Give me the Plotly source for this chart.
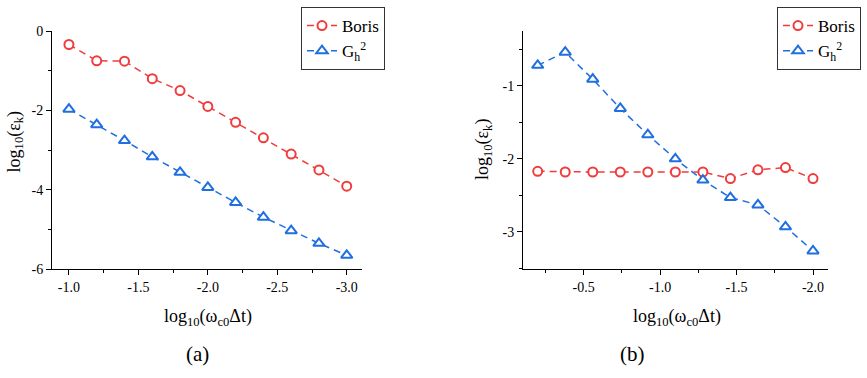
import plotly.graph_objects as go

# ---------------- data ----------------
xa = [-1.0, -1.2, -1.4, -1.6, -1.8, -2.0, -2.2, -2.4, -2.6, -2.8, -3.0]
boris_a = [-0.34, -0.75, -0.76, -1.20, -1.50, -1.90, -2.30, -2.69, -3.10, -3.50, -3.91]
gh_a = [-1.97, -2.36, -2.76, -3.17, -3.56, -3.94, -4.32, -4.69, -5.03, -5.35, -5.65]

xb = [-0.20, -0.38, -0.56, -0.74, -0.92, -1.10, -1.28, -1.46, -1.64, -1.82, -2.00]
boris_b = [-2.17, -2.18, -2.18, -2.18, -2.18, -2.18, -2.18, -2.27, -2.15, -2.12, -2.27]
gh_b = [-0.72, -0.54, -0.91, -1.31, -1.67, -2.00, -2.29, -2.53, -2.63, -2.93, -3.26]

xticks_a = [-1.0, -1.5, -2.0, -2.5, -3.0]
xticklabels_a = ["-1.0", "-1.5", "-2.0", "-2.5", "-3.0"]
xminor_a = [-1.25, -1.75, -2.25, -2.75]
yticks_a = [0, -2, -4, -6]
yticklabels_a = ["0", "-2", "-4", "-6"]
yminor_a = [-1, -3, -5]

xticks_b = [-0.5, -1.0, -1.5, -2.0]
xticklabels_b = ["-0.5", "-1.0", "-1.5", "-2.0"]
xminor_b = [-0.25, -0.75, -1.25, -1.75]
yticks_b = [-1, -2, -3]
yticklabels_b = ["-1", "-2", "-3"]
yminor_b = [-0.5, -1.5, -2.5, -3.5]

RED = "#F03C3C"
BLUE = "#1F6FE0"
FONT = "Liberation Serif"
DASH = "7px,5px"

fig = go.Figure()

def add_pair(x, yb, yg, xa_name, ya_name, legend_name):
    fig.add_trace(go.Scatter(
        x=x, y=yb, name="Boris", mode="lines+markers",
        line=dict(color=RED, width=1.5, dash=DASH),
        marker=dict(symbol="circle", size=9, color="white", line=dict(width=2, color=RED)),
        xaxis=xa_name, yaxis=ya_name, legend=legend_name))
    fig.add_trace(go.Scatter(
        x=x, y=yg, name="G<sub>h</sub><sup>2</sup>", mode="lines+markers",
        line=dict(color=BLUE, width=1.5, dash=DASH),
        marker=dict(symbol="triangle-up", size=10, color="white", line=dict(width=2, color=BLUE)),
        xaxis=xa_name, yaxis=ya_name, legend=legend_name))

add_pair(xa, boris_a, gh_a, "x", "y", "legend")
add_pair(xb, boris_b, gh_b, "x2", "y2", "legend2")

W, H = 867, 378

def px_x(p):
    return p / W

def px_y(p):
    return 1 - p / H

axis_common = dict(
    showline=True, linecolor="black", linewidth=1, mirror=False,
    showgrid=False, zeroline=False, ticks="outside", ticklen=5,
    tickcolor="black", tickwidth=1,
    tickfont=dict(family=FONT, size=14, color="black"),
    tickmode="array",
)

fig.update_layout(
    width=W, height=H,
    margin=dict(l=0, r=0, t=0, b=0),
    paper_bgcolor="white", plot_bgcolor="white",
    font=dict(family=FONT, color="black"),
    showlegend=True,
    xaxis=dict(domain=[px_x(52), px_x(362)], range=[-0.878, -3.11], anchor="y",
               tickvals=xticks_a, ticktext=xticklabels_a,
               minor=dict(tickvals=xminor_a, ticks="outside", ticklen=3, tickcolor="black"),
               **axis_common),
    yaxis=dict(domain=[px_y(273), px_y(25)], range=[-6, 0.0], anchor="x",
               tickvals=yticks_a, ticktext=yticklabels_a,
               minor=dict(tickvals=yminor_a, ticks="outside", ticklen=3, tickcolor="black"),
               **axis_common),
    xaxis2=dict(domain=[px_x(523), px_x(828)], range=[-0.104, -2.098], anchor="y2",
                tickvals=xticks_b, ticktext=xticklabels_b,
                minor=dict(tickvals=xminor_b, ticks="outside", ticklen=3, tickcolor="black"),
                **axis_common),
    yaxis2=dict(domain=[px_y(273), px_y(25)], range=[-3.51, -0.25], anchor="x2",
                tickvals=yticks_b, ticktext=yticklabels_b,
                minor=dict(tickvals=yminor_b, ticks="outside", ticklen=3, tickcolor="black"),
                **axis_common),
    legend=dict(x=px_x(301), y=1.0, xanchor="left", yanchor="top",
                bgcolor="white", bordercolor="#333", borderwidth=1,
                font=dict(family=FONT, size=17, color="black"),
                tracegroupgap=0, itemwidth=30),
    legend2=dict(x=px_x(777), y=1.0, xanchor="left", yanchor="top",
                 bgcolor="white", bordercolor="#333", borderwidth=1,
                 font=dict(family=FONT, size=17, color="black"),
                 tracegroupgap=0, itemwidth=30),
)

ann_font = dict(family=FONT, size=18, color="black")
common = dict(xref="paper", yref="paper", showarrow=False,
              xanchor="center", yanchor="middle")
fig.add_annotation(text="log<sub>10</sub>(ε<sub>k</sub>)", textangle=-90,
                   x=px_x(15), y=px_y(141), font=ann_font, **common)
fig.add_annotation(text="log<sub>10</sub>(ε<sub>k</sub>)", textangle=-90,
                   x=px_x(483), y=px_y(149), font=ann_font, **common)
fig.add_annotation(text="log<sub>10</sub>(ω<sub>c0</sub>Δt)",
                   x=px_x(208), y=px_y(323), font=ann_font, **common)
fig.add_annotation(text="log<sub>10</sub>(ω<sub>c0</sub>Δt)",
                   x=px_x(677), y=px_y(323), font=ann_font, **common)
fig.add_annotation(text="(a)", x=px_x(197), y=px_y(361),
                   font=dict(family=FONT, size=21, color="black"), **common)
fig.add_annotation(text="(b)", x=px_x(632), y=px_y(361),
                   font=dict(family=FONT, size=21, color="black"), **common)

fig.write_html("out.html")
